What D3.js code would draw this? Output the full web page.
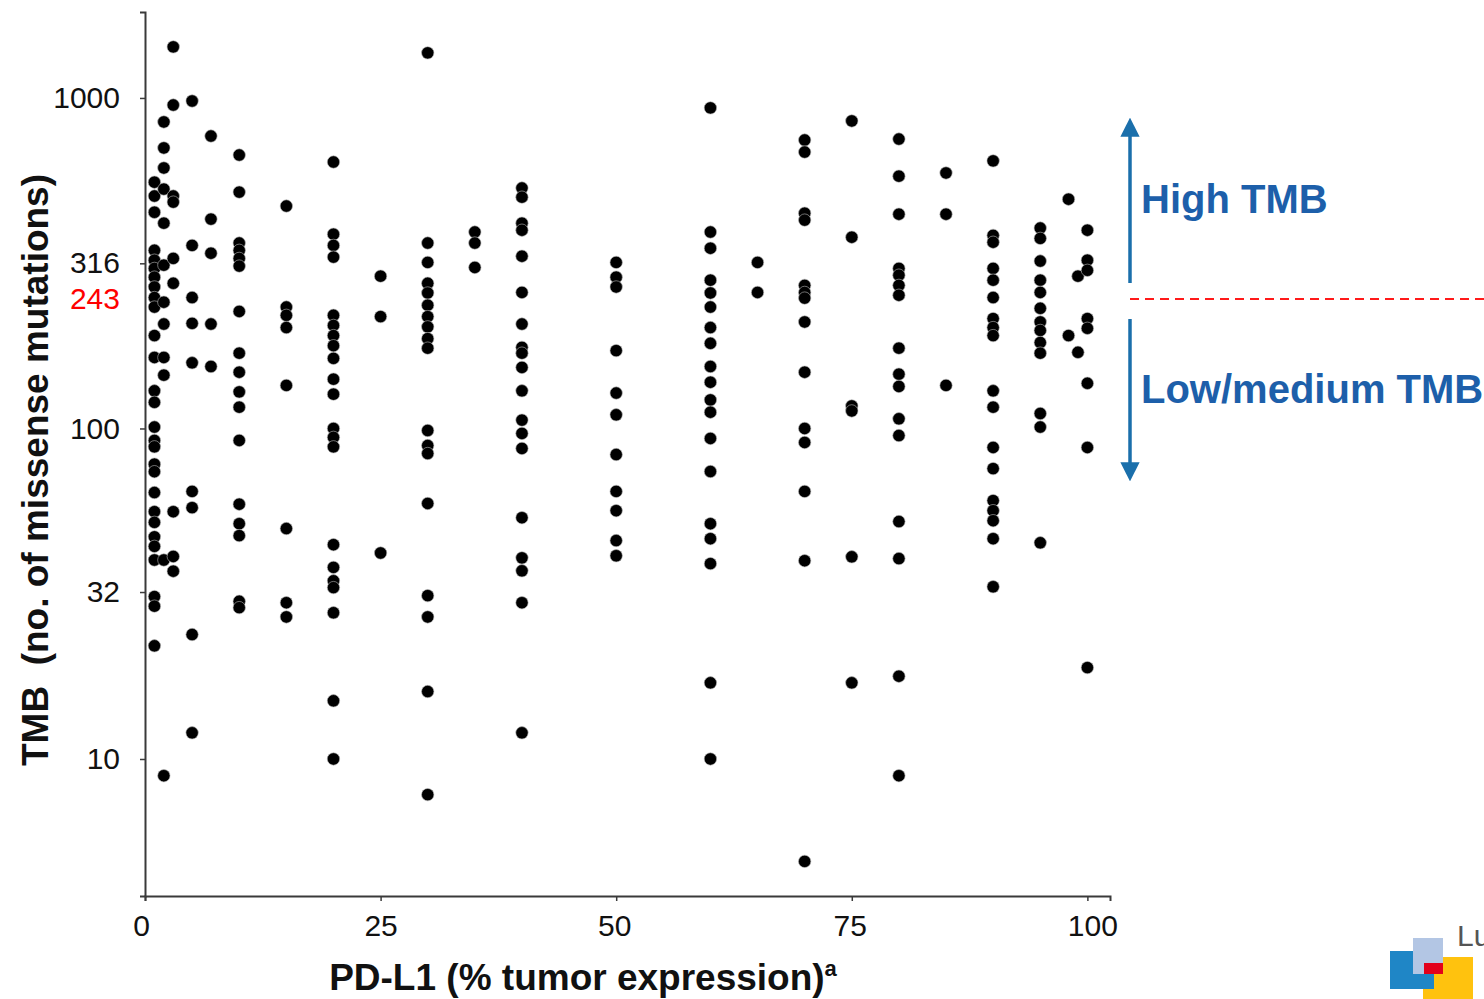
<!DOCTYPE html>
<html>
<head>
<meta charset="utf-8">
<script src="https://cdn.jsdelivr.net/npm/d3@7"></script>
<style>
    body { margin: 0; background: #fff; }
    #tmb-chart { width: 1484px; height: 999px; }
    text { font-family: "Liberation Sans", Arial, sans-serif; }
</style>
</head>
<body>
<div id="tmb-chart"></div>
<script>
// PD-L1 expression levels (% tumor cells), one per column of dots
const pdl1 = [1, 2, 3, 5, 7, 10, 15, 20, 25, 30, 35, 40, 50, 60, 65, 70, 75, 80, 85, 90, 95, 98, 99, 100];

// TMB (no. of missense mutations) for each patient, grouped by the PD-L1 column above
const tmb = [
    [556, 505, 451, 346, 323, 305, 287, 268, 249, 233, 191, 164, 130, 120, 101, 92, 88, 78, 74, 64, 56, 52, 47, 44, 40, 31, 29, 22],
    [846, 706, 614, 530, 418, 312, 241, 207, 164, 145, 40, 8.9],
    [1427, 952, 505, 484, 327, 275, 56, 41, 37],
    [979, 358, 249, 208, 158, 64.5, 57.6, 23.8, 12],
    [767, 430, 339, 207, 154],
    [672, 519, 364, 346, 327, 310, 226, 169, 148, 129, 116, 92, 59, 51.5, 47.4, 30, 28.7],
    [471, 233, 220, 202, 135, 49.8, 29.7, 26.9],
    [640, 387, 358, 330, 220, 205, 191, 178, 163, 141, 127, 100, 94, 88, 44.5, 38, 34.6, 33, 27.7, 15, 10],
    [289, 218, 42],
    [1369, 364, 318, 275, 257, 236, 218, 203, 187, 175, 98.6, 88.8, 84, 59.3, 31.2, 26.9, 16, 7.8],
    [393, 364, 307],
    [534, 501, 418, 398, 332, 258, 207, 176, 169, 153, 130, 106, 96.6, 87, 53.7, 40.6, 37.1, 29.7, 12],
    [318, 287, 268, 172, 128, 110, 83.4, 64.5, 56.4, 45.8, 41.2],
    [933, 393, 351, 281, 257, 233, 202, 181, 154, 138, 122, 112, 93.3, 74.1, 51.5, 46.4, 39, 17, 10],
    [318, 258],
    [746, 686, 448, 427, 271, 258, 248, 210, 148, 100, 90.7, 64.5, 39.8, 4.9],
    [852, 379, 117, 113, 40.9, 17],
    [751, 580, 445, 305, 291, 271, 253, 175, 146, 134, 107, 95.2, 52.3, 40.4, 17.8, 8.9],
    [593, 445, 135],
    [645, 384, 366, 305, 281, 249, 215, 202, 191, 130, 116, 87.6, 75.6, 60.5, 56.4, 52.6, 46.4, 33.2],
    [404, 376, 321, 281, 258, 231, 210, 198, 182, 169, 111, 101, 45.1],
    [494, 191],
    [289, 170],
    [398, 323, 301, 215, 201, 137, 87.6, 18.9]
];

const xTicks = [0, 25, 50, 75, 100];
const yTicks = [10, 32, 100, 316, 1000];
const cutoff = 243;

class TmbScatterVis {

    constructor(parentElement) {
        this.parentElement = parentElement;
        this.initVis();
    }

    initVis() {
        let vis = this;

        vis.margin = {top: 12, right: 374, bottom: 103, left: 145};
        vis.width = 1484 - vis.margin.left - vis.margin.right;
        vis.height = 999 - vis.margin.top - vis.margin.bottom;

        vis.root = d3.select("#" + vis.parentElement)
            .append("svg")
            .attr("width", 1484)
            .attr("height", 999);

        vis.svg = vis.root.append("g")
            .attr("transform", `translate(${vis.margin.left}, ${vis.margin.top})`);

        // Scales
        vis.xScale = d3.scaleLinear()
            .domain([0, 102.4])
            .range([0, vis.width]);
        vis.yScale = d3.scaleLog()
            .domain([3.85, 1820])
            .range([vis.height, 0]);

        vis.wrangleData();
    }

    wrangleData() {
        let vis = this;

        // flatten columns into one point per patient
        vis.points = pdl1.flatMap((p, i) => tmb[i].map(v => ({pdl1: p, tmb: v})));

        vis.updateVis();
    }

    updateVis() {
        this.createAxis();
        this.drawPoints();
        this.drawCutoff();
        this.drawLogo();
    }

    createAxis() {
        let vis = this;

        let xAxis = d3.axisBottom(vis.xScale)
            .tickValues(xTicks)
            .tickSize(5)
            .tickPadding(14);
        let yAxis = d3.axisLeft(vis.yScale)
            .tickValues(yTicks)
            .tickFormat(d => d)
            .tickSize(5)
            .tickPadding(20);

        let gx = vis.svg.append("g")
            .attr("transform", `translate(0,${vis.height})`)
            .call(xAxis);
        let gy = vis.svg.append("g")
            .call(yAxis);

        [gx, gy].forEach(g => {
            g.select(".domain").attr("stroke", "#3a3a3a").attr("stroke-width", 2);
            g.selectAll(".tick line").attr("stroke", "#3a3a3a").attr("stroke-width", 1.5);
            g.selectAll(".tick text")
                .attr("fill", "#111")
                .style("font-size", "30px")
                .style("font-family", "'Liberation Sans', Arial, sans-serif");
        });
        gx.selectAll(".tick text").attr("dx", (d, i) => [-4, 0, -2, -2, 5][i]);

        // red cutoff label on the y axis
        vis.svg.append("text")
            .attr("x", -25)
            .attr("y", vis.yScale(cutoff) - 3)
            .attr("dy", "0.35em")
            .attr("text-anchor", "end")
            .attr("fill", "#ff0000")
            .style("font-size", "30px")
            .text(cutoff);

        // Y-axis label
        vis.root.append("text")
            .attr("transform", "translate(48, 470) rotate(-90)")
            .attr("text-anchor", "middle")
            .style("font-size", "37px")
            .style("font-weight", "bold")
            .style("white-space", "pre")
            .attr("fill", "#111")
            .text("TMB  (no. of missense mutations)");

        // X-axis label with superscript a
        let xl = vis.root.append("text")
            .attr("x", 583)
            .attr("y", 990)
            .attr("text-anchor", "middle")
            .style("font-size", "37px")
            .style("font-weight", "bold")
            .attr("fill", "#111");
        xl.append("tspan").text("PD-L1 (% tumor expression)");
        xl.append("tspan")
            .attr("dy", -14)
            .style("font-size", "22px")
            .text("a");
    }

    drawPoints() {
        let vis = this;

        vis.svg.selectAll("circle.pt")
            .data(vis.points)
            .join("circle")
            .attr("class", "pt")
            .attr("cx", d => vis.xScale(d.pdl1))
            .attr("cy", d => vis.yScale(d.tmb))
            .attr("r", 6.2)
            .attr("fill", "#000")
            .attr("stroke", "#bbb")
            .attr("stroke-width", 0.6);
    }

    drawCutoff() {
        let vis = this;
        let blue = "#1a6fab";
        let yc = vis.margin.top + vis.yScale(cutoff) - 2;
        let ax = 1130;

        vis.root.append("line")
            .attr("x1", ax).attr("x2", 1484)
            .attr("y1", yc).attr("y2", yc)
            .attr("stroke", "#ff1a1a")
            .attr("stroke-width", 2)
            .attr("stroke-dasharray", "9,6");

        let defs = vis.root.append("defs");
        defs.append("marker")
            .attr("id", "arrowhead")
            .attr("viewBox", "0 0 10 10")
            .attr("refX", 2).attr("refY", 5)
            .attr("markerWidth", 5.5).attr("markerHeight", 5.5)
            .attr("orient", "auto")
            .append("path")
            .attr("d", "M0,0 L10,5 L0,10 Z")
            .attr("fill", blue);

        // up arrow (high) and down arrow (low/medium)
        vis.root.append("line")
            .attr("x1", ax).attr("x2", ax)
            .attr("y1", yc - 16).attr("y2", 133)
            .attr("stroke", blue).attr("stroke-width", 3.5)
            .attr("marker-end", "url(#arrowhead)");
        vis.root.append("line")
            .attr("x1", ax).attr("x2", ax)
            .attr("y1", yc + 20).attr("y2", 466)
            .attr("stroke", blue).attr("stroke-width", 3.5)
            .attr("marker-end", "url(#arrowhead)");

        vis.root.append("text")
            .attr("x", 1141).attr("y", 213)
            .style("font-size", "40px")
            .style("font-weight", "bold")
            .attr("fill", "#1d5faa")
            .text("High TMB");
        vis.root.append("text")
            .attr("x", 1141).attr("y", 403)
            .style("font-size", "40px")
            .style("font-weight", "bold")
            .attr("fill", "#1d5faa")
            .text("Low/medium TMB");
    }

    // corner logo
    drawLogo() {
        let vis = this;
        let logo = vis.root.append("g");
        logo.append("rect").attr("x", 1423).attr("y", 957).attr("width", 50).attr("height", 42).attr("fill", "#ffc20e");
        logo.append("rect").attr("x", 1390).attr("y", 951).attr("width", 44).attr("height", 38).attr("fill", "#1f86c6");
        logo.append("rect").attr("x", 1413).attr("y", 938).attr("width", 30).attr("height", 36).attr("fill", "#b3c6e4");
        logo.append("rect").attr("x", 1424).attr("y", 963).attr("width", 19).attr("height", 11).attr("fill", "#e3001b");
        logo.append("text")
            .attr("x", 1457).attr("y", 946)
            .style("font-size", "30px")
            .attr("fill", "#555")
            .text("Lu");
    }
}

new TmbScatterVis("tmb-chart");
</script>
</body>
</html>
